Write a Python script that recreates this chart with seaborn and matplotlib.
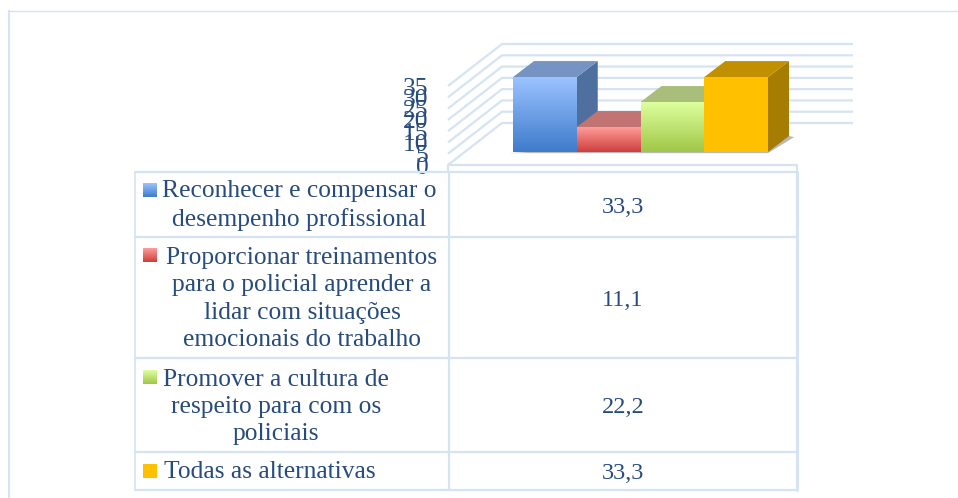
import numpy as np
import matplotlib
matplotlib.use("Agg")
import matplotlib.pyplot as plt
from matplotlib.colors import LinearSegmentedColormap
from matplotlib.patches import Polygon
import seaborn as sns
import pandas as pd

categories = ["Reconhecer e compensar o\ndesempenho profissional",
              "Proporcionar treinamentos\npara o policial aprender a\nlidar com situações\nemocionais do trabalho",
              "Promover a cultura de\nrespeito para com os\npoliciais",
              "Todas as alternativas"]
values = [33.3, 11.1, 22.2, 33.3]
value_labels = ["33,3", "11,1", "22,2", "33,3"]
yticks = [0, 5, 10, 15, 20, 25, 30, 35]
grad_top = ["#9BC2FF", "#FF9C9A", "#DDFF9E", "#FFC000"]
grad_bottom = ["#3F7CCB", "#CE3F3C", "#A0C748", "#FFC000"]
side_col = ["#4F6F9E", "#A85A58", "#8FA860", "#A67D00"]
top_col = ["#7593C3", "#C27472", "#A8BE7A", "#C09000"]

W, H = 958, 498
LINE = "#D6E3F3"
TEXT = "#274B7D"
FONT = "Liberation Serif"
FS = 18.4

sns.set_theme(style="white", rc={"font.family": FONT})
fig = plt.figure(figsize=(W / 100, H / 100), dpi=100)
fig.patch.set_facecolor("white")

def axpx(l, t, r, b, **kw):
    return fig.add_axes([l / W, 1 - b / H, (r - l) / W, (b - t) / H], **kw)

# full-figure overlay in pixel coordinates for frame and table rules
ov = axpx(0, 0, W, H, zorder=0)
ov.set_xlim(0, W); ov.set_ylim(H, 0); ov.axis("off")
ov.plot([958, 9], [10.5, 10.5], color=LINE, lw=1.0, solid_capstyle="butt")
ov.plot([9, 9], [10, 498], color=LINE, lw=1.6, solid_capstyle="butt")

# back wall / floor of the 3-D box
PXU = 79 / 35
for t in yticks:
    y0 = 165 - t * PXU
    ov.plot([448, 502, 853], [y0, y0 - 42, y0 - 42], color=LINE, lw=1.6, solid_capstyle="butt")
ov.plot([448, 448, 797, 797], [172, 165, 165, 172], color=LINE, lw=1.6)

# y-axis holding tick labels
ya = axpx(448, 165 - 35 * PXU, 797, 165, zorder=1)
ya.patch.set_alpha(0)
ya.set_ylim(0, 35); ya.set_xticks([])
ya.set_yticks(yticks); ya.set_yticklabels([str(t) for t in yticks], fontsize=FS, color=TEXT)
ya.tick_params(axis="y", length=0, pad=14)
for s in ya.spines.values():
    s.set_visible(False)

# bars
ax = axpx(513, 152 - 35 * 2.25, 768, 152, zorder=2)
ax.patch.set_alpha(0)
df = pd.DataFrame({"cat": categories, "val": values})
sns.barplot(data=df, x="cat", y="val", ax=ax, width=1.0, color="white", saturation=1, errorbar=None)
ax.set_xlim(-0.5, 3.5); ax.set_ylim(0, 35)
ax.axis("off")
DX = 21 / 255 * 4
DY = 16 / 2.25
# soft ground shadow under the row of bars
ax.add_patch(Polygon([[-0.56, -0.5], [3.5, -0.5], [3.5 + DX + 0.08, DY - 0.5], [3.5 + DX, DY]], closed=True,
                     fc="#9A9A9A", ec="none", alpha=0.7, zorder=1, clip_on=False))
for i, (p, v) in enumerate(zip(ax.patches, values)):
    x0 = p.get_x(); x1 = x0 + p.get_width()
    cmap = LinearSegmentedColormap.from_list("g", [grad_top[i], grad_bottom[i]])
    im = ax.imshow(np.linspace(0, 1, 64)[:, None], cmap=cmap, extent=[x0, x1, 0, v],
                   aspect="auto", zorder=3 + i * 2, origin="upper")
    ax.add_patch(Polygon([[x1, 0], [x1 + DX, DY], [x1 + DX, v + DY], [x1, v]], closed=True,
                         fc=side_col[i], ec="none", zorder=2 + i * 2, clip_on=False))
    ax.add_patch(Polygon([[x0, v], [x0 + DX, v + DY], [x1 + DX, v + DY], [x1, v]], closed=True,
                         fc=top_col[i], ec="none", zorder=2 + i * 2, clip_on=False))
ax.set_xlim(-0.5, 3.5); ax.set_ylim(0, 35)
for a in ax.images:
    a.set_clip_on(False)

# table
tb = axpx(0, 0, W, H, zorder=3)
tb.patch.set_alpha(0)
tb.set_xlim(0, W); tb.set_ylim(H, 0); tb.axis("off")
rows = [172, 237, 358, 452, 490]
for y in rows:
    tb.plot([135, 797], [y, y], color=LINE, lw=1.6)
tb.plot([135, 135], [172, 490], color=LINE, lw=1.2)
tb.plot([449, 449], [172, 490], color=LINE, lw=1.6)
tb.plot([797, 797], [172, 490], color=LINE, lw=2.2)
label_x = [299, 302, 276, 270]
label_y = [205.5, 299, 407, 472]
value_y = [207, 300, 407, 473]
for c, lab, xc, yc, yv in zip(categories, value_labels, label_x, label_y, value_y):
    tb.text(xc, yc, c, ha="center", va="center", fontsize=FS, color=TEXT, linespacing=1.31)
    tb.text(623, yv, lab, ha="center", va="center", fontsize=FS - 0.9, color=TEXT)
swatch_y = [183, 248, 370, 464]
for i, y in enumerate(swatch_y):
    cmap = LinearSegmentedColormap.from_list("g", [grad_top[i], grad_bottom[i]])
    tb.imshow(np.linspace(0, 1, 32)[:, None], cmap=cmap, extent=[143.5, 157, y + 14, y], aspect="auto", zorder=5)
tb.set_xlim(0, W); tb.set_ylim(H, 0)

fig.savefig("out.png", dpi=100)
